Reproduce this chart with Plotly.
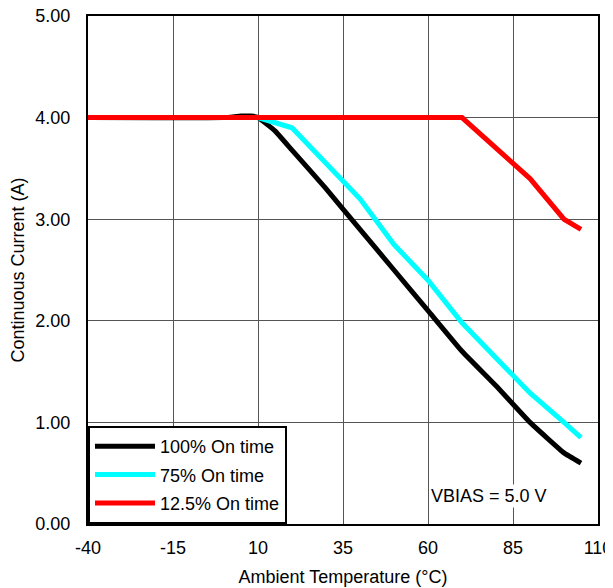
import plotly.graph_objects as go

# 100% on time
temp_100 = [-40, 0, 5, 8, 10, 15, 20, 30, 40, 50, 60, 70, 80, 90, 100, 105]
curr_100 = [4.0, 4.0, 4.015, 4.015, 4.0, 3.87, 3.68, 3.3, 2.9, 2.5, 2.1, 1.7, 1.36, 1.0, 0.7, 0.6]

# 75% on time
temp_75 = [-40, 10, 20, 30, 40, 50, 60, 70, 80, 90, 100, 105]
curr_75 = [4.0, 4.0, 3.9, 3.55, 3.2, 2.75, 2.4, 1.98, 1.63, 1.29, 1.0, 0.85]

# 12.5% on time
temp_125 = [-40, 70, 90, 100, 105]
curr_125 = [4.0, 4.0, 3.4, 3.0, 2.9]

x_ticks = [-40, -15, 10, 35, 60, 85, 110]
x_labels = ["-40", "-15", "10", "35", "60", "85", "110"]
y_ticks = [0, 1, 2, 3, 4, 5]
y_labels = ["0.00", "1.00", "2.00", "3.00", "4.00", "5.00"]

fig = go.Figure()
fig.add_trace(go.Scatter(x=temp_100, y=curr_100, mode="lines", name="100% On time", legendgroup="a",
                         line=dict(color="black", width=5, shape="spline", smoothing=0.3)))
fig.add_trace(go.Scatter(x=temp_75, y=curr_75, mode="lines", name="75% On time", legendgroup="b",
                         line=dict(color="#00ffff", width=5)))
fig.add_trace(go.Scatter(x=temp_125, y=curr_125, mode="lines", name="12.5% On time", legendgroup="c",
                         line=dict(color="#ff0000", width=5)))

fig.add_annotation(x=78, y=0.28, text="VBIAS = 5.0 V", showarrow=False,
                   bgcolor="white", font=dict(size=18, color="black"))

axis_common = dict(showline=True, linecolor="black", linewidth=2, mirror=True,
                   showgrid=True, gridcolor="#555555", gridwidth=1, zeroline=False,
                   ticks="", tickfont=dict(size=18, color="black"), automargin=False,
                   ticklabeloverflow="allow")

fig.update_xaxes(range=[-40, 110], tickvals=x_ticks, ticktext=x_labels, ticklabelstandoff=6,
                 title=dict(text="Ambient Temperature (°C)", font=dict(size=18, color="black"), standoff=14),
                 **axis_common)
fig.update_yaxes(range=[0, 5], tickvals=y_ticks, ticktext=y_labels, ticklabelstandoff=12,
                 title=dict(text="Continuous Current (A)", font=dict(size=18, color="black"), standoff=8),
                 **axis_common)

# page body adds an 8px margin, so the figure is drawn 8px smaller and shifted
fig.update_layout(
    width=605, height=580,
    margin=dict(l=80, r=15, t=8, b=64),
    plot_bgcolor="white", paper_bgcolor="white",
    font=dict(family="Liberation Sans, Arial, sans-serif", color="black"),
    legend=dict(x=0, y=0, xanchor="left", yanchor="bottom", itemwidth=60,
                bgcolor="white", bordercolor="black", borderwidth=2,
                font=dict(size=18, color="black"), tracegroupgap=2),
)

fig.write_html("out.html")
